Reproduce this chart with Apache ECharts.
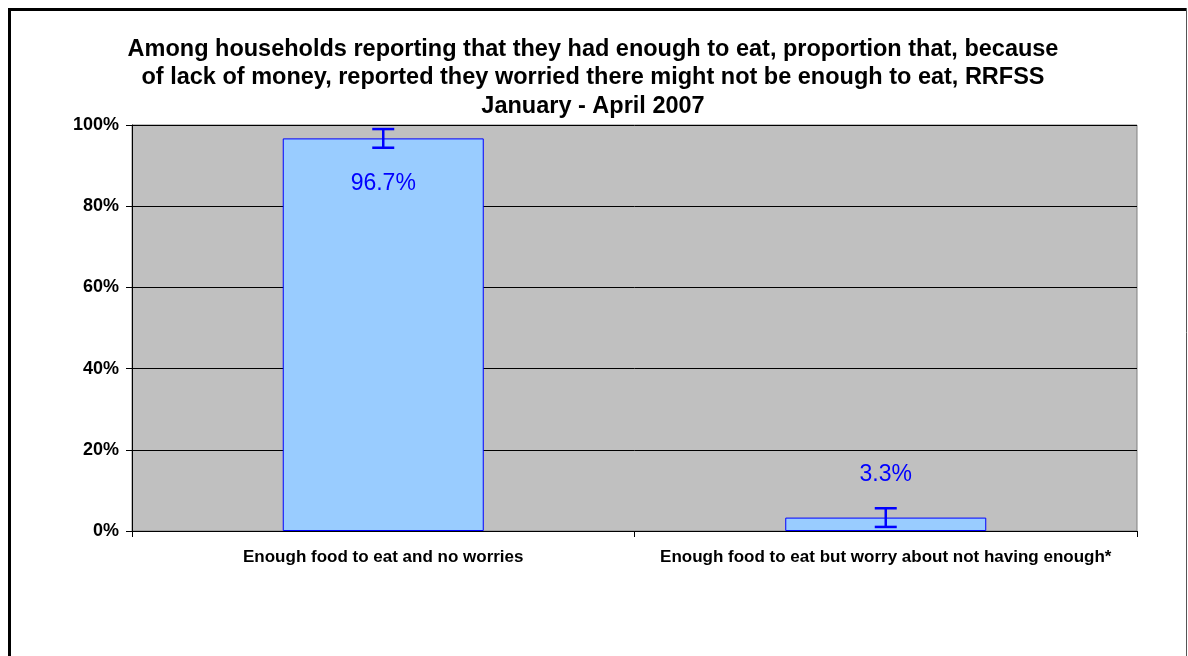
<!DOCTYPE html>
<html><head><meta charset="utf-8">
<script src="https://cdn.jsdelivr.net/npm/echarts@6/dist/echarts.min.js"></script>
<style>html,body{margin:0;padding:0;background:#fff}#c{width:1188px;height:656px}</style>
</head><body><div id="c"></div>
<script>
const categories = ['Enough food to eat and no worries', 'Enough food to eat but worry about not having enough*'];
const values = [96.7, 3.3];
const errors = [2.3, 2.3];
const yTicks = [0, 20, 40, 60, 80, 100];
const titleText = 'Among households reporting that they had enough to eat, proportion that, because\nof lack of money, reported they worried there might not be enough to eat, RRFSS\nJanuary - April 2007';

const chart = echarts.init(document.getElementById('c'));
const errData = values.map((v, i) => [i, v - errors[i], v + errors[i]]);
chart.setOption({
  animation: false,
  backgroundColor: '#fff',
  title: {
    text: titleText, left: 588, top: 30, textAlign: 'center',
    textStyle: {fontFamily: 'Liberation Sans, Arial', fontSize: 23.5, fontWeight: 'bold', color: '#000', lineHeight: 28.5}
  },
  graphic: [
    {type: 'line', shape: {x1: 9.5, y1: 8, x2: 9.5, y2: 700}, style: {stroke: '#000', lineWidth: 3}},
    {type: 'line', shape: {x1: 8, y1: 9.5, x2: 1187, y2: 9.5}, style: {stroke: '#000', lineWidth: 3}},
    {type: 'line', shape: {x1: 1186.5, y1: 8, x2: 1186.5, y2: 700}, style: {stroke: '#555', lineWidth: 1}}
  ],
  grid: {left: 132, right: 51, top: 125, bottom: 125, show: true, backgroundColor: '#c0c0c0', borderColor: '#808080', borderWidth: 1},
  xAxis: {
    type: 'category', data: categories,
    axisLine: {lineStyle: {color: '#000', width: 1}},
    axisTick: {show: true, interval: 0, length: 6, lineStyle: {color: '#000'}},
    axisLabel: {interval: 0, hideOverlap: false, fontFamily: 'Liberation Sans, Arial', fontSize: 17, fontWeight: 'bold', color: '#000', margin: 18}
  },
  yAxis: {
    type: 'value', min: 0, max: 100, interval: 20,
    axisLine: {show: true, lineStyle: {color: '#000', width: 1}},
    axisTick: {show: true, length: 6, lineStyle: {color: '#000'}},
    splitLine: {lineStyle: {color: '#000', width: 1}},
    axisLabel: {formatter: v => yTicks.includes(v) ? v + '%' : '', fontFamily: 'Liberation Sans, Arial', fontSize: 18, fontWeight: 'bold', color: '#000', margin: 13}
  },
  series: [
    {
      type: 'bar', barWidth: '40%',
      data: values.map((v, i) => ({
        value: v,
        label: i === 0
          ? {show: true, position: 'insideTop', distance: 34}
          : {show: true, position: 'top', distance: 31}
      })),
      itemStyle: {color: '#99ccff', borderColor: '#0000ff', borderWidth: 1},
      label: {formatter: p => p.value.toFixed(1) + '%', fontFamily: 'Liberation Sans, Arial', fontSize: 23, color: '#0000ff'},
      z: 2
    },
    {
      type: 'custom', data: errData, z: 5,
      renderItem: (params, api) => {
        const x = api.value(0);
        const lo = api.coord([x, api.value(1)]);
        const hi = api.coord([x, api.value(2)]);
        const hw = 11;
        const st = {stroke: '#0000ff', lineWidth: 2.5};
        return {type: 'group', children: [
          {type: 'line', shape: {x1: lo[0], y1: lo[1], x2: hi[0], y2: hi[1]}, style: st},
          {type: 'line', shape: {x1: lo[0] - hw, y1: lo[1], x2: lo[0] + hw, y2: lo[1]}, style: st},
          {type: 'line', shape: {x1: hi[0] - hw, y1: hi[1], x2: hi[0] + hw, y2: hi[1]}, style: st}
        ]};
      }
    }
  ]
});
</script></body></html>
